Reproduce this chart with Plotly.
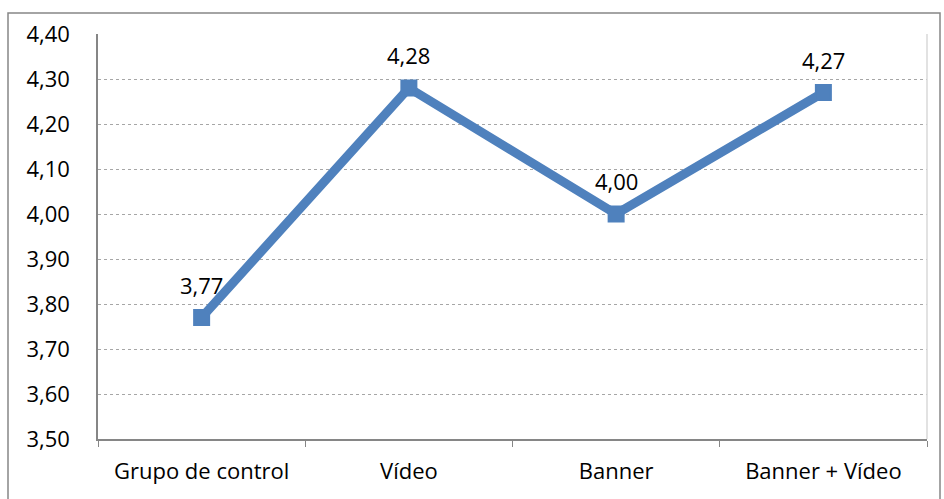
import plotly.graph_objects as go

categories = ["Grupo de control", "Vídeo", "Banner", "Banner + Vídeo"]
values = [3.77, 4.28, 4.00, 4.27]
y_ticks = [3.5, 3.6, 3.7, 3.8, 3.9, 4.0, 4.1, 4.2, 4.3, 4.4]

line_color = "#4F81BD"
font_family = "Open Sans, Liberation Sans, sans-serif"
font_size = 22

fig = go.Figure()
fig.add_trace(go.Scatter(
    x=categories,
    y=values,
    mode="lines+markers",
    line=dict(color=line_color, width=9),
    marker=dict(symbol="square", size=15, color=line_color,
                line=dict(color=line_color, width=2)),
    cliponaxis=False,
    showlegend=False,
))

# value labels above each point
for c, v in zip(categories, values):
    fig.add_annotation(x=c, y=v, text=f"{v:.2f}".replace(".", ","),
                       showarrow=False, yshift=33,
                       font=dict(size=font_size, color="black", family=font_family))

# outer chart frame
pw, ph = 944 - 98 - 17, 499 - 34 - 60
fig.add_shape(type="rect", xref="paper", yref="paper",
              x0=(8 - 98) / pw, x1=(940 - 98) / pw,
              y0=(439 - 520) / ph, y1=(439 - 13) / ph,
              line=dict(color="#868686", width=1.5), layer="below")
# right edge of the plotting area
fig.add_shape(type="line", xref="paper", yref="paper",
              x0=1, x1=1, y0=0, y1=1,
              line=dict(color="#D9D9D9", width=1.5))

fig.update_layout(
    width=944, height=499,
    margin=dict(l=98, r=17, t=34, b=60),
    paper_bgcolor="white", plot_bgcolor="white",
    separators=",.",
    font=dict(family=font_family, size=font_size, color="black"),
    xaxis=dict(
        type="category",
        range=[-0.5, 3.5],
        showgrid=False,
        showline=True, linecolor="#868686", linewidth=1.5,
        ticks="outside", tickson="boundaries", ticklen=6,
        tickcolor="#868686", tickwidth=1,
        ticklabelstandoff=12,
        tickfont=dict(size=font_size),
    ),
    yaxis=dict(
        range=[3.5, 4.4],
        tickvals=y_ticks,
        tickformat=".2f",
        showgrid=True, gridcolor="#A6A6A6", gridwidth=1, griddash="dot",
        showline=True, linecolor="#868686", linewidth=1.5,
        ticks="", ticklabelstandoff=22,
        tickfont=dict(size=font_size),
        zeroline=False,
    ),
)

fig.write_html("out.html")
